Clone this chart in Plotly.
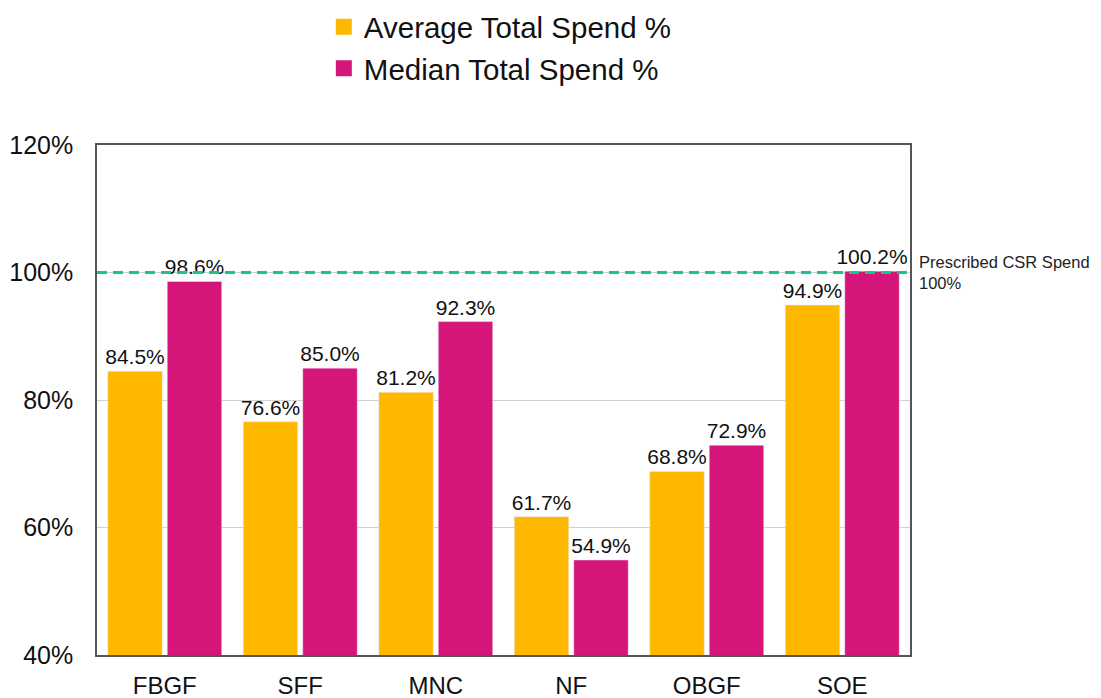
import plotly.graph_objects as go

categories = ["FBGF", "SFF", "MNC", "NF", "OBGF", "SOE"]
average_spend = [84.5, 76.6, 81.2, 61.7, 68.8, 94.9]
median_spend = [98.6, 85.0, 92.3, 54.9, 72.9, 100.2]
prescribed = 100
series_names = ["Average Total Spend %", "Median Total Spend %"]
colors = ["#FFB800", "#D6157A"]

fig = go.Figure()
for name, vals, col in zip(series_names, [average_spend, median_spend], colors):
    fig.add_trace(go.Bar(
        x=categories, y=vals, name=name, marker_color=col, showlegend=False,
        texttemplate="%{y:.1f}%", textposition="outside", cliponaxis=False,
        constraintext="none",
        textfont=dict(size=21, color="#111"),
    ))
    fig.add_trace(go.Scatter(
        x=[None], y=[None], mode="markers", name=name,
        marker=dict(symbol="square", size=23, color=col),
    ))

fig.add_shape(type="line", xref="paper", x0=0, x1=1, yref="y", y0=prescribed, y1=prescribed,
              line=dict(color="#19C48D", width=3, dash="10px,6px"))
fig.add_annotation(xref="paper", x=1.009, yref="y", y=prescribed, text="Prescribed CSR Spend<br>100%",
                   showarrow=False, xanchor="left", yanchor="middle", align="left",
                   font=dict(size=16.5, color="#222"))

# page body has an 8px margin, so offset margins accordingly
fig.update_layout(
    width=1101, height=698,
    margin=dict(l=89, r=199, t=137, b=51, autoexpand=False),
    plot_bgcolor="white", paper_bgcolor="white",
    font=dict(family="Liberation Sans, Arial, sans-serif", color="#111"),
    barmode="group", bargap=0.122, bargroupgap=0.084,
    legend=dict(x=0.279, y=1.282, xanchor="left", yanchor="top", font=dict(size=29.5),
                itemwidth=30, tracegroupgap=0, bgcolor="rgba(0,0,0,0)"),
)
fig.update_xaxes(showline=True, linecolor="#555", linewidth=1.5, mirror=True, automargin=False,
                 tickfont=dict(size=24), ticklabelstandoff=8, showgrid=False)
fig.update_yaxes(range=[40, 120], tickvals=[40, 60, 80, 100, 120],
                 ticktext=["40%", "60%", "80%", "100%", "120%"], automargin=False,
                 showline=True, linecolor="#555", linewidth=1.5, mirror=True,
                 gridcolor="#d0d0d0", gridwidth=1, tickfont=dict(size=25),
                 ticklabelstandoff=17, zeroline=False)

fig.write_html("out.html")
